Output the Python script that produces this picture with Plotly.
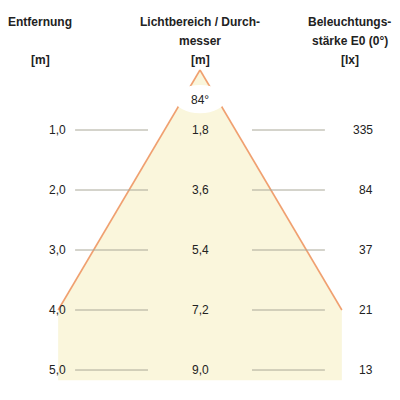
import plotly.graph_objects as go

distances = [1, 2, 3, 4, 5]
dist_labels = ["1,0", "2,0", "3,0", "4,0", "5,0"]
diam_labels = ["1,8", "3,6", "5,4", "7,2", "9,0"]
lux_labels = ["335", "84", "37", "21", "13"]
beam_angle = "84°"
half_width_max = 3.6
depth_max = 5.17

fig = go.Figure()
# cone fill
fig.add_trace(go.Scatter(
    x=[0, -half_width_max, -half_width_max, half_width_max, half_width_max, 0],
    y=[0, 4, depth_max, depth_max, 4, 0],
    fill="toself", fillcolor="#faf6dc", line=dict(width=0), mode="lines", hoverinfo="skip"))
# cone edges
for s in (-1, 1):
    fig.add_trace(go.Scatter(x=[0, s * half_width_max], y=[0, 4], mode="lines",
                             line=dict(color="#f0a070", width=1.6), hoverinfo="skip"))
# gray row lines
for d in distances:
    for x0, x1 in ((-3.17, -1.32), (1.32, 3.17)):
        fig.add_trace(go.Scatter(x=[x0, x1], y=[d, d], mode="lines",
                                 line=dict(color="#aaa898", width=1), hoverinfo="skip"))

fig.add_shape(type="circle", x0=-0.65, x1=0.65, y0=0.25, y1=0.72,
              fillcolor="white", line=dict(width=0))
fig.add_annotation(x=0, y=0.5, text=beam_angle, showarrow=False)

for d, a, b, c in zip(distances, dist_labels, diam_labels, lux_labels):
    fig.add_annotation(x=-3.35, y=d, text=a, showarrow=False, xanchor="right")
    fig.add_annotation(x=0, y=d, text=b, showarrow=False)
    fig.add_annotation(x=4.44, y=d, text=c, showarrow=False, xanchor="right")

headers = [
    (-4.05, ["Entfernung", "", "[m]"]),
    (0, ["Lichtbereich / Durch-", "messer", "[m]"]),
    (3.8, ["Beleuchtungs-", "stärke E0 (0°)", "[lx]"]),
]
for x, lines in headers:
    for i, t in enumerate(lines):
        if t:
            fig.add_annotation(x=x, y=(22 + 19 * i - 70) / 60, text="<b>" + t + "</b>",
                               showarrow=False)

fig.update_layout(
    width=400, height=400, margin=dict(l=0, r=0, t=0, b=0),
    plot_bgcolor="white", paper_bgcolor="white", showlegend=False,
    font=dict(family="Liberation Sans, Arial", size=12, color="#222"),
    xaxis=dict(range=[-4.873, 5.279], visible=False),
    yaxis=dict(range=[5.633, -1.0333], visible=False),
)
fig.write_html("out.html")
